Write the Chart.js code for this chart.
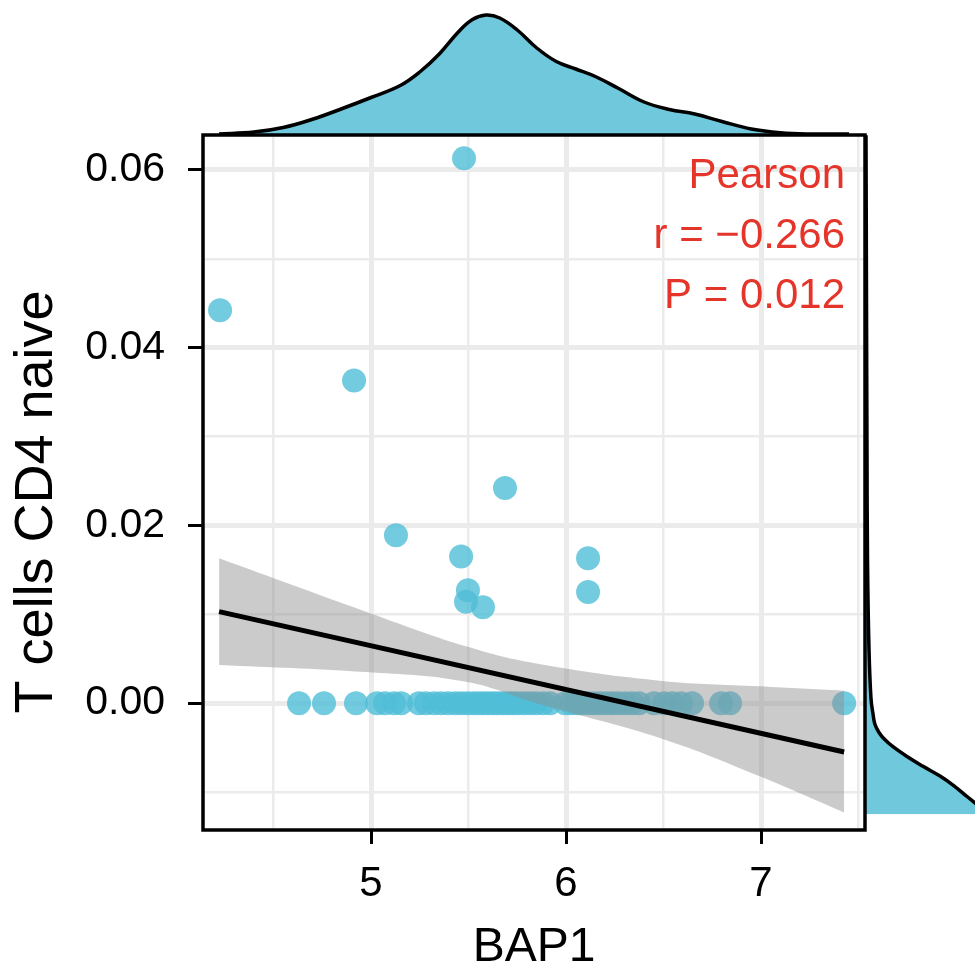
<!DOCTYPE html>
<html lang="en">
<head>
    <meta charset="UTF-8">
    <title>BAP1 vs T cells CD4 naive</title>
    <style>
        body {
            margin: 0;
            background: #ffffff;
        }
        #wrap {
            position: relative;
            width: 975px;
            height: 969px;
        }
        #wrap canvas {
            position: absolute;
            top: 0;
        }
    </style>
</head>
<body>
    <div id="wrap">
        <canvas id="topDensity" width="975" height="135" style="left:0"></canvas>
        <canvas id="rightDensity" width="110" height="969" style="left:865px"></canvas>
        <canvas id="mainChart" width="975" height="969" style="left:0"></canvas>
    </div>

    <script src="https://cdn.jsdelivr.net/npm/chart.js@4"></script>
    <script>
        // scatter points (BAP1 expression, T cells CD4 naive fraction)
        const bap1 = [
            5.477, 4.226, 4.913, 5.687, 5.128, 5.462, 6.113, 5.497, 5.487, 5.574, 6.113,
            4.631, 4.759, 4.923, 5.031, 5.072, 5.118, 5.154, 5.246, 5.282, 5.323,
            5.359, 5.395, 5.431, 5.462, 5.492, 5.523, 5.549, 5.574, 5.600, 5.626,
            5.651, 5.677, 5.703, 5.728, 5.754, 5.785, 5.815, 5.846, 5.882, 5.918,
            5.995, 6.026, 6.056, 6.082, 6.113, 6.144, 6.174, 6.205, 6.236, 6.267,
            6.303, 6.338, 6.374, 6.451, 6.503, 6.544, 6.590, 6.646, 6.795, 6.841, 7.426
        ];
        const cd4Naive = [
            0.0613, 0.0442, 0.0363, 0.0242, 0.0189, 0.0165, 0.0163, 0.0127, 0.0114, 0.0108, 0.0125,
            0, 0, 0, 0, 0, 0, 0, 0, 0, 0,
            0, 0, 0, 0, 0, 0, 0, 0, 0, 0,
            0, 0, 0, 0, 0, 0, 0, 0, 0, 0,
            0, 0, 0, 0, 0, 0, 0, 0, 0, 0,
            0, 0, 0, 0, 0, 0, 0, 0, 0, 0, 0
        ];

        // linear fit and its confidence band
        const fitX = [4.221, 7.426];
        const fitY = [0.0103, -0.0055];
        const bandX = [4.221, 4.974, 5.487, 5.862, 6.492, 6.990, 7.426];
        const bandUpper = [0.0163, 0.0103, 0.0064, 0.0044, 0.0025, 0.0019, 0.0014];
        const bandLower = [0.0043, 0.0035, 0.0024, -0.0001, -0.0040, -0.0082, -0.0123];

        // marginal density of BAP1 (top)
        const topDensX = [4.221, 4.400, 4.550, 4.700, 4.850, 5.000, 5.150, 5.250, 5.350,
            5.450, 5.520, 5.590, 5.660, 5.750, 5.850, 5.950, 6.050, 6.150, 6.270,
            6.400, 6.530, 6.660, 6.800, 6.950, 7.100, 7.250, 7.451];
        const topDensY = [0.007, 0.020, 0.050, 0.105, 0.175, 0.250, 0.330, 0.420, 0.540,
            0.690, 0.770, 0.800, 0.780, 0.700, 0.580, 0.490, 0.440, 0.390, 0.310,
            0.220, 0.170, 0.140, 0.090, 0.040, 0.015, 0.007, 0.007];

        // marginal density of T cells CD4 naive (right)
        const rightDensY = [0.0639, 0.0454, 0.0285, 0.0162, 0.0061, 0.0005, -0.0012, -0.0024,
            -0.0033, -0.0040, -0.0049, -0.0060, -0.0071, -0.0082, -0.0093, -0.0105, -0.0115, -0.0125];
        const rightDensX = [0.5, 0.75, 1, 1.25, 2, 3, 4, 5,
            7, 9.5, 14, 21, 29, 37.5, 44.5, 51, 56.5, 62];

        // axes
        const xMin = 4.1385, xMax = 7.533;
        const yMin = -0.01427, yMax = 0.06393;
        const xTicks = [4.5, 5, 5.5, 6, 6.5, 7, 7.5];
        const xTickLabels = ['', '5', '', '6', '', '7', ''];
        const yTicks = [-0.01, 0, 0.01, 0.02, 0.03, 0.04, 0.05, 0.06];
        const yTickLabels = ['', '0.00', '', '0.02', '', '0.04', '', '0.06'];
        const xTitle = 'BAP1';
        const yTitle = 'T cells CD4 naive';
        const statLines = ['Pearson', 'r = \u22120.266', 'P = 0.012'];

        const fontFamily = "'Liberation Sans', Arial, Helvetica, sans-serif";
        const pointColor = 'rgba(80, 190, 215, 0.8)';
        const densityColor = '#70C8DC';
        const gridColor = '#EBEBEB';

        Chart.defaults.font.family = fontFamily;
        Chart.defaults.color = '#000';

        const toXY = (xs, ys) => xs.map((x, i) => ({ x: x, y: ys[i] }));

        const panelBorder = {
            id: 'panelBorder',
            afterDatasetsDraw(chart) {
                const a = chart.chartArea;
                const c = chart.ctx;
                c.save();
                c.strokeStyle = '#000';
                c.lineWidth = 3.5;
                c.strokeRect(a.left, a.top, a.right - a.left, a.bottom - a.top);
                c.restore();
            }
        };

        // correlation text in the top right corner, and the y axis title
        const textLayer = {
            id: 'textLayer',
            afterDraw(chart) {
                const a = chart.chartArea;
                const c = chart.ctx;
                c.save();
                c.fillStyle = '#E5352B';
                c.font = '42px ' + fontFamily;
                c.textAlign = 'right';
                c.textBaseline = 'alphabetic';
                statLines.forEach((t, i) => {
                    c.fillText(t, a.right - 20, a.top + 53 + i * 60);
                });
                c.fillStyle = '#000';
                c.font = '54px ' + fontFamily;
                c.textAlign = 'center';
                c.textBaseline = 'middle';
                c.translate(37, 502);
                c.rotate(-Math.PI / 2);
                c.fillText(yTitle, 0, 0);
                c.restore();
            }
        };

        // main scatter panel
        new Chart(document.getElementById('mainChart'), {
            type: 'scatter',
            data: {
                datasets: [
                    {
                        type: 'line',
                        data: toXY(fitX, fitY),
                        borderColor: '#000',
                        borderWidth: 5,
                        pointRadius: 0,
                        order: 1
                    },
                    {
                        type: 'line',
                        data: toXY(bandX, bandUpper),
                        borderWidth: 0,
                        pointRadius: 0,
                        tension: 0.4,
                        backgroundColor: 'rgba(140, 140, 140, 0.45)',
                        fill: '+1',
                        order: 2
                    },
                    {
                        type: 'line',
                        data: toXY(bandX, bandLower),
                        borderWidth: 0,
                        pointRadius: 0,
                        tension: 0.4,
                        fill: false,
                        order: 2
                    },
                    {
                        data: toXY(bap1, cd4Naive),
                        backgroundColor: pointColor,
                        borderWidth: 0,
                        pointRadius: 12,
                        order: 3
                    }
                ]
            },
            options: {
                responsive: false,
                animation: false,
                layout: { padding: { left: 0, top: 135, right: 110, bottom: 0 } },
                plugins: { legend: { display: false }, tooltip: { enabled: false } },
                scales: {
                    x: {
                        type: 'linear',
                        min: xMin,
                        max: xMax,
                        afterBuildTicks: s => { s.ticks = xTicks.map(v => ({ value: v })); },
                        afterFit: s => { s.height = 139; },
                        ticks: {
                            autoSkip: false,
                            maxRotation: 0,
                            padding: 15,
                            font: { size: 42 },
                            color: '#000',
                            callback: (v, i) => xTickLabels[i]
                        },
                        grid: {
                            color: gridColor,
                            lineWidth: c => xTickLabels[c.index] ? 5 : 2.5,
                            tickColor: c => xTickLabels[c.index] ? '#000' : 'rgba(0,0,0,0)',
                            tickWidth: 3,
                            tickLength: 14
                        },
                        border: { display: false },
                        title: {
                            display: true,
                            text: xTitle,
                            color: '#000',
                            font: { size: 48, lineHeight: 0.9 },
                            padding: { top: 0, bottom: 0 }
                        }
                    },
                    y: {
                        type: 'linear',
                        min: yMin,
                        max: yMax,
                        afterBuildTicks: s => { s.ticks = yTicks.map(v => ({ value: v })); },
                        afterFit: s => { s.width = 203; },
                        ticks: {
                            autoSkip: false,
                            padding: 23,
                            font: { size: 41 },
                            color: '#000',
                            callback: (v, i) => yTickLabels[i]
                        },
                        grid: {
                            color: gridColor,
                            lineWidth: c => yTickLabels[c.index] ? 5 : 2.5,
                            tickColor: c => yTickLabels[c.index] ? '#000' : 'rgba(0,0,0,0)',
                            tickWidth: 3,
                            tickLength: 15
                        },
                        border: { display: false },
                        title: { display: false }
                    }
                }
            },
            plugins: [panelBorder, textLayer]
        });

        // top marginal density
        new Chart(document.getElementById('topDensity'), {
            type: 'line',
            data: {
                datasets: [{
                    data: toXY(topDensX, topDensY),
                    borderColor: '#000',
                    borderWidth: 3.5,
                    backgroundColor: densityColor,
                    fill: 'origin',
                    pointRadius: 0,
                    tension: 0.4
                }]
            },
            options: {
                responsive: false,
                animation: false,
                layout: { padding: { left: 203, right: 110, top: 0, bottom: 0 } },
                plugins: { legend: { display: false }, tooltip: { enabled: false } },
                scales: {
                    x: { type: 'linear', min: xMin, max: xMax, display: false },
                    y: { type: 'linear', min: 0, max: 0.9, display: false }
                }
            }
        });

        // right marginal density, drawn sideways
        new Chart(document.getElementById('rightDensity'), {
            type: 'line',
            data: {
                datasets: [{
                    data: toXY(rightDensX, rightDensY),
                    indexAxis: 'y',
                    borderColor: '#000',
                    borderWidth: 3.5,
                    backgroundColor: densityColor,
                    fill: 'origin',
                    pointRadius: 0,
                    tension: 0.4
                }]
            },
            options: {
                responsive: false,
                animation: false,
                indexAxis: 'y',
                layout: { padding: { left: 0, right: 0, top: 135, bottom: 139 } },
                plugins: { legend: { display: false }, tooltip: { enabled: false } },
                scales: {
                    x: { type: 'linear', min: 0, max: 55, display: false },
                    y: { type: 'linear', min: yMin, max: yMax, display: false }
                }
            }
        });
    </script>
</body>
</html>
